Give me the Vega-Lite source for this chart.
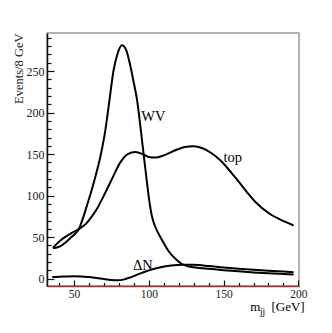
{
  "$schema": "https://vega.github.io/schema/vega-lite/v6.json",
  "autosize": {"type": "none"},
  "padding": {"left": 47, "top": 33, "right": 33, "bottom": 47},
  "width": 252,
  "height": 253,
  "background": "white",
  "config": {
    "view": {"stroke": "#999999", "strokeWidth": 1.5},
    "font": "Liberation Serif",
    "axis": {"labelFont": "Liberation Serif", "titleFont": "Liberation Serif", "labelFontSize": 12, "titleFontSize": 12.5, "titleFontWeight": "normal", "labelColor": "#222", "titleColor": "#222", "tickColor": "#111", "tickWidth": 1.2, "grid": false}
  },
  "datasets": {
    "curves": [
      {"series": "WV", "x": 36, "y": 37}, {"series": "WV", "x": 38, "y": 37.3}, {"series": "WV", "x": 41, "y": 39}, {"series": "WV", "x": 44, "y": 43}, {"series": "WV", "x": 48, "y": 49.5}, {"series": "WV", "x": 53.1, "y": 59}, {"series": "WV", "x": 58.7, "y": 88}, {"series": "WV", "x": 63.6, "y": 118}, {"series": "WV", "x": 67.6, "y": 146.5}, {"series": "WV", "x": 71, "y": 179}, {"series": "WV", "x": 73.6, "y": 213}, {"series": "WV", "x": 76.5, "y": 251}, {"series": "WV", "x": 79, "y": 270}, {"series": "WV", "x": 82.1, "y": 281}, {"series": "WV", "x": 85, "y": 275}, {"series": "WV", "x": 87.6, "y": 257}, {"series": "WV", "x": 90, "y": 236}, {"series": "WV", "x": 92.2, "y": 215}, {"series": "WV", "x": 94.5, "y": 182}, {"series": "WV", "x": 97, "y": 143}, {"series": "WV", "x": 99, "y": 113}, {"series": "WV", "x": 100.5, "y": 92}, {"series": "WV", "x": 102, "y": 76}, {"series": "WV", "x": 104, "y": 64}, {"series": "WV", "x": 106, "y": 56}, {"series": "WV", "x": 109, "y": 46}, {"series": "WV", "x": 113.3, "y": 33}, {"series": "WV", "x": 118.9, "y": 22}, {"series": "WV", "x": 122.2, "y": 17.5}, {"series": "WV", "x": 126, "y": 15}, {"series": "WV", "x": 130, "y": 13.8}, {"series": "WV", "x": 140, "y": 11.8}, {"series": "WV", "x": 150, "y": 10.2}, {"series": "WV", "x": 160, "y": 8.8}, {"series": "WV", "x": 170, "y": 7.5}, {"series": "WV", "x": 180, "y": 6.4}, {"series": "WV", "x": 190, "y": 5.5}, {"series": "WV", "x": 196.8, "y": 5},
      {"series": "top", "x": 36, "y": 37}, {"series": "top", "x": 38, "y": 41}, {"series": "top", "x": 41, "y": 46}, {"series": "top", "x": 44, "y": 50}, {"series": "top", "x": 48, "y": 54.5}, {"series": "top", "x": 53, "y": 59.5}, {"series": "top", "x": 58, "y": 66}, {"series": "top", "x": 62, "y": 75}, {"series": "top", "x": 66, "y": 86}, {"series": "top", "x": 70, "y": 100}, {"series": "top", "x": 75.4, "y": 120}, {"series": "top", "x": 81, "y": 140}, {"series": "top", "x": 86, "y": 150}, {"series": "top", "x": 91, "y": 152.5}, {"series": "top", "x": 96, "y": 150}, {"series": "top", "x": 100, "y": 146.5}, {"series": "top", "x": 104.4, "y": 145.8}, {"series": "top", "x": 110, "y": 148.5}, {"series": "top", "x": 117, "y": 154}, {"series": "top", "x": 124, "y": 158.5}, {"series": "top", "x": 130, "y": 159.5}, {"series": "top", "x": 136, "y": 157}, {"series": "top", "x": 142, "y": 151}, {"series": "top", "x": 147.8, "y": 142.5}, {"series": "top", "x": 155, "y": 128}, {"series": "top", "x": 160, "y": 117}, {"series": "top", "x": 165.7, "y": 104}, {"series": "top", "x": 172, "y": 91}, {"series": "top", "x": 180, "y": 79}, {"series": "top", "x": 188, "y": 71}, {"series": "top", "x": 196.8, "y": 64},
      {"series": "dN", "x": 35.5, "y": 1.8}, {"series": "dN", "x": 40, "y": 2.3}, {"series": "dN", "x": 45, "y": 2.6}, {"series": "dN", "x": 50, "y": 2.8}, {"series": "dN", "x": 55, "y": 2.6}, {"series": "dN", "x": 60, "y": 1.8}, {"series": "dN", "x": 65, "y": 0.8}, {"series": "dN", "x": 70, "y": -0.5}, {"series": "dN", "x": 75, "y": -1.6}, {"series": "dN", "x": 79, "y": -2}, {"series": "dN", "x": 83, "y": -1.2}, {"series": "dN", "x": 87, "y": 1}, {"series": "dN", "x": 92, "y": 4.5}, {"series": "dN", "x": 97, "y": 8}, {"series": "dN", "x": 102, "y": 11}, {"series": "dN", "x": 108, "y": 13.8}, {"series": "dN", "x": 115, "y": 15.8}, {"series": "dN", "x": 122, "y": 16.8}, {"series": "dN", "x": 130, "y": 16.6}, {"series": "dN", "x": 140, "y": 15.2}, {"series": "dN", "x": 150, "y": 13.4}, {"series": "dN", "x": 160, "y": 11.9}, {"series": "dN", "x": 170, "y": 10.6}, {"series": "dN", "x": 180, "y": 9.5}, {"series": "dN", "x": 190, "y": 8.5}, {"series": "dN", "x": 196.8, "y": 7.8}
    ],
    "labels": [
      {"text": "WV", "x": 95, "y": 190},
      {"text": "top", "x": 150, "y": 140},
      {"text": "ΔN", "x": 89.5, "y": 10}
    ],
    "xtitle": [
      {"text": "m", "x": 167.9, "y": -39.5},
      {"text": "[GeV]", "x": 182, "y": -39.5}
    ],
    "xsub": [
      {"text": "jj", "x": 174.3, "y": -43.5}
    ]
  },
  "encoding": {
    "x": {"field": "x", "type": "quantitative", "scale": {"domain": [32, 200.4], "nice": false, "zero": false},
      "axis": {"values": [40,50,60,70,80,90,100,110,120,130,140,150,160,170,180,190,200], "labelExpr": "datum.value % 50 === 0 ? datum.label : ''", "tickSize": {"condition": {"test": "datum.value % 50 === 0", "value": -6}, "value": -3.5}, "labelPadding": 8, "labelFontSize": 11.5, "domainColor": "#a03030", "domainWidth": 1.5, "title": null, "labelFlush": false, "labelOverlap": false}},
    "y": {"field": "y", "type": "quantitative", "scale": {"domain": [-8.9, 295.9], "nice": false, "zero": false},
      "axis": {"values": [0,10,20,30,40,50,60,70,80,90,100,110,120,130,140,150,160,170,180,190,200,210,220,230,240,250,260,270,280,290], "labelExpr": "datum.value % 50 === 0 ? datum.label : ''", "tickSize": {"condition": {"test": "datum.value % 50 === 0", "value": -7}, "value": -4}, "labelPadding": 10, "domainColor": "#111", "domainWidth": 1.5, "title": "Events/8 GeV", "titleAngle": -90, "titleAlign": "right", "titleBaseline": "alphabetic", "titleX": -25, "titleY": 0, "labelFlush": false, "labelOverlap": false}}
  },
  "layer": [
    {
      "mark": {"type": "rule", "color": "#a0a0a0", "strokeWidth": 1.5},
      "encoding": {"y": {"datum": 0, "type": "quantitative"}, "x": {"datum": 32, "type": "quantitative"}, "x2": {"datum": 200.4}}
    },
    {
      "mark": {"type": "rule", "color": "#b03030", "strokeWidth": 1.5},
      "encoding": {"x": {"datum": 200.4, "type": "quantitative"}, "y": {"datum": -8.9, "type": "quantitative"}, "y2": {"datum": 295.9}}
    },
    {
      "data": {"name": "curves"},
      "mark": {"type": "line", "interpolate": "monotone", "color": "black", "strokeWidth": 2},
      "encoding": {"detail": {"field": "series"}}
    },
    {
      "data": {"name": "labels"},
      "mark": {"type": "text", "font": "Liberation Serif", "fontSize": 14.5, "align": "left", "baseline": "alphabetic", "color": "black"},
      "encoding": {"text": {"field": "text"}}
    },
    {
      "data": {"name": "xtitle"},
      "mark": {"type": "text", "font": "Liberation Serif", "fontSize": 13, "align": "left", "baseline": "alphabetic", "color": "black", "clip": false},
      "encoding": {"text": {"field": "text"}}
    },
    {
      "data": {"name": "xsub"},
      "mark": {"type": "text", "font": "Liberation Serif", "fontSize": 9.5, "align": "left", "baseline": "alphabetic", "color": "black", "clip": false},
      "encoding": {"text": {"field": "text"}}
    }
  ]
}
